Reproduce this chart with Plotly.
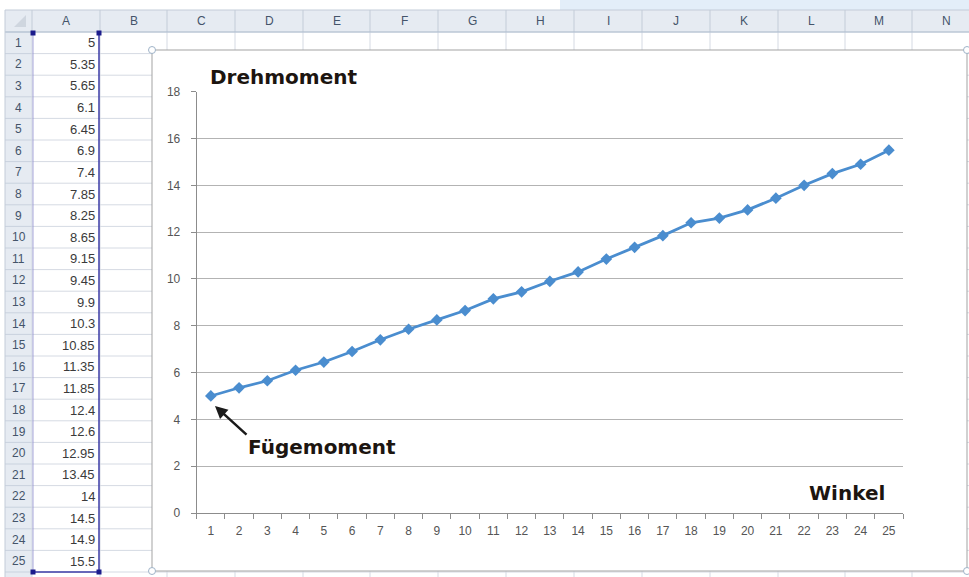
import plotly.graph_objects as go

# ---------------- data ----------------
winkel = [str(i) for i in range(1, 26)]
drehmoment = [5, 5.35, 5.65, 6.1, 6.45, 6.9, 7.4, 7.85, 8.25, 8.65, 9.15, 9.45, 9.9,
              10.3, 10.85, 11.35, 11.85, 12.4, 12.6, 12.95, 13.45, 14, 14.5, 14.9, 15.5]
column_letters = ["A", "B", "C", "D", "E", "F", "G", "H", "I", "J", "K", "L", "M", "N"]
row_numbers = list(range(1, 26))
y_title = "Drehmoment"
x_title = "Winkel"
callout = "Fügemoment"

# ---------------- geometry (pixels) ----------------
W, H = 969, 577
def px(x):
    return x / W
def py(y):
    return 1 - y / H

col_edges = [5, 32, 100, 167, 235, 303, 370, 438, 506, 574, 642, 710, 778, 845, 912, 980]
header_top, header_bot = 10, 32
row_h = 21.6
chart_l, chart_t, chart_r, chart_b = 152, 50, 967, 571
plot_l, plot_r, plot_t, plot_b = 196.7, 903, 91.7, 513

grid_col = "#d5dae3"
head_bg = "#e6ebf2"
head_txt = "#44546a"

shapes = []
def rect(x0, y0, x1, y1, fill=None, line=None, lw=1, layer="below"):
    d = dict(type="rect", xref="paper", yref="paper",
             x0=px(x0), x1=px(x1), y0=py(y1), y1=py(y0), layer=layer,
             line=dict(width=lw if line else 0, color=line or "rgba(0,0,0,0)"))
    if fill:
        d["fillcolor"] = fill
    shapes.append(d)
def line(x0, y0, x1, y1, color, lw=1, layer="below"):
    shapes.append(dict(type="line", xref="paper", yref="paper",
                       x0=px(x0), x1=px(x1), y0=py(y0), y1=py(y1), layer=layer,
                       line=dict(color=color, width=lw)))

# top strip
rect(560, 0, 969, header_top, fill="#e3eef9")
# header row background
rect(col_edges[0], header_top, W, header_bot, fill=head_bg)
# row header column background
rect(col_edges[0], header_bot, col_edges[1], H, fill=head_bg)
# cell grid
n_rows = 26
for k in range(n_rows + 1):
    y = header_bot + k * row_h
    if y <= H:
        line(col_edges[1], y, W, y, grid_col)
        line(col_edges[0], y, col_edges[1], y, "#c9d2de")
for x in col_edges[1:]:
    line(x, header_top, x, header_bot, "#c3ccd8")
    line(x, header_bot, x, H, grid_col)
line(col_edges[0], header_top, W, header_top, "#c3ccd8")
line(col_edges[0], header_bot, W, header_bot, "#aebdcf")
line(col_edges[0], header_top, col_edges[0], H, "#c3ccd8")
# corner triangle
shapes.append(dict(type="path", xref="paper", yref="paper", layer="below",
                   path=f"M {px(26)} {py(27)} L {px(26)} {py(15)} L {px(14)} {py(27)} Z",
                   fillcolor="#cfd6df", line=dict(width=0)))

# selection of column A
sel_col = "#3b3ba6"
sel_bot = header_bot + 25 * row_h
line(col_edges[2] - 1, header_bot, col_edges[2] - 1, sel_bot, sel_col, 1.5)
line(col_edges[1] + 1, sel_bot, col_edges[2] - 1, sel_bot, sel_col, 1.5)
line(col_edges[1] + 1, header_bot, col_edges[1] + 1, sel_bot, "#8f8fd0", 0.8)
for (hx, hy) in [(col_edges[1] + 1, header_bot + 1), (col_edges[2] - 1, header_bot + 1),
                 (col_edges[1] + 1, sel_bot), (col_edges[2] - 1, sel_bot)]:
    rect(hx - 2.5, hy - 2.5, hx + 2.5, hy + 2.5, fill="#1c1c8c")

# chart object
rect(chart_l, chart_t, chart_r, chart_b, fill="white", line="#a3a3a3", lw=1)
for (hx, hy) in [(chart_l, chart_t), (chart_l, chart_b), (chart_r, chart_t), (chart_r, chart_b)]:
    shapes.append(dict(type="circle", xref="paper", yref="paper", layer="above",
                       x0=px(hx - 3.5), x1=px(hx + 3.5), y0=py(hy + 3.5), y1=py(hy - 3.5),
                       fillcolor="white", line=dict(color="#9fb3c8", width=1)))

# ---------------- annotations ----------------
ann = []
for i, letter in enumerate(column_letters):
    cx = (col_edges[i + 1] + col_edges[i + 2]) / 2
    ann.append(dict(x=px(cx), y=py((header_top + header_bot) / 2), xref="paper", yref="paper",
                    text=letter, showarrow=False, xanchor="center", yanchor="middle",
                    font=dict(family="Liberation Sans", size=12, color=head_txt)))
for k, (rn, val) in enumerate(zip(row_numbers, drehmoment)):
    cy = header_bot + (k + 0.5) * row_h
    ann.append(dict(x=px(18.5), y=py(cy), xref="paper", yref="paper", text=str(rn),
                    showarrow=False, xanchor="center", yanchor="middle",
                    font=dict(family="Liberation Sans", size=12, color=head_txt)))
    ann.append(dict(x=px(97), y=py(cy), xref="paper", yref="paper", text=f"{val:g}",
                    showarrow=False, xanchor="right", yanchor="middle",
                    font=dict(family="Liberation Sans", size=13, color="#3a3a3a")))

title_font = dict(family="DejaVu Sans", size=20, color="#1c1510")
ann.append(dict(x=px(208), y=py(77), xref="paper", yref="paper", text=f"<b>{y_title}</b>",
                showarrow=False, xanchor="left", yanchor="middle", font=title_font))
ann.append(dict(x=px(887), y=py(493), xref="paper", yref="paper", text=f"<b>{x_title}</b>",
                showarrow=False, xanchor="right", yanchor="middle", font=title_font))
ann.append(dict(x=px(246), y=py(447), xref="paper", yref="paper", text=f"<b>{callout}</b>",
                showarrow=False, xanchor="left", yanchor="middle", font=title_font))
ann.append(dict(x=px(215), y=py(406), xref="paper", yref="paper", text="",
                showarrow=True, ax=33, ay=30, arrowhead=2, arrowsize=1, arrowwidth=2.5,
                arrowcolor="#1a1a1a", standoff=0))

# ---------------- figure ----------------
fig = go.Figure()
fig.add_trace(go.Scatter(
    x=winkel, y=drehmoment, mode="lines+markers",
    line=dict(color="#4a8dcf", width=2.8),
    marker=dict(symbol="diamond", size=9, color="#4a8dcf"),
    showlegend=False, cliponaxis=False))

fig.update_layout(
    width=W, height=H, margin=dict(l=0, r=0, t=0, b=0, autoexpand=False),
    paper_bgcolor="white", plot_bgcolor="rgba(0,0,0,0)",
    shapes=shapes, annotations=ann,
    xaxis=dict(domain=[px(plot_l), px(plot_r)], type="category", tickson="boundaries",
               range=[-0.5, len(winkel) - 0.5],
               ticks="outside", ticklen=5, tickcolor="#8c8c8c", showgrid=False,
               showline=True, linecolor="#8c8c8c", linewidth=1, zeroline=False,
               ticklabelstandoff=7, automargin=False,
               tickfont=dict(family="Liberation Sans", size=12, color="#555555"),
               fixedrange=True),
    yaxis=dict(domain=[py(plot_b), py(plot_t)], range=[0, 18], dtick=2,
               ticks="outside", ticklen=5, tickcolor="#8c8c8c", showgrid=True,
               gridcolor="#b3b3b3", gridwidth=1, showline=True, linecolor="#8c8c8c",
               linewidth=1, zeroline=False, ticklabelstandoff=8, automargin=False,
               tickfont=dict(family="Liberation Sans", size=12, color="#555555"),
               fixedrange=True),
)

fig.write_html(
    "out.html",
    config={"displayModeBar": False},
    post_script="document.body.style.margin='0';document.body.style.padding='0';"
                "document.body.style.overflow='hidden';",
)
